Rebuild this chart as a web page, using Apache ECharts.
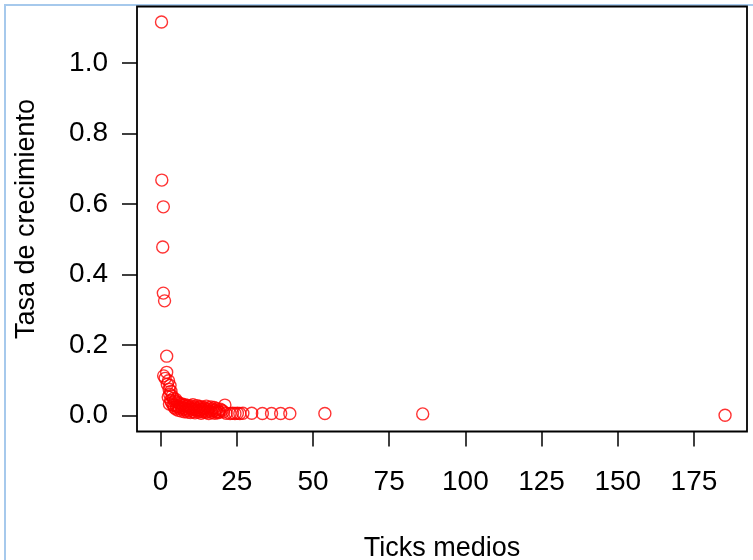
<!DOCTYPE html>
<html>
<head>
<meta charset="utf-8">
<script src="https://cdn.jsdelivr.net/npm/echarts@6/dist/echarts.min.js"></script>
<style>
html,body{margin:0;padding:0;background:#fff;}
#frame{position:absolute;left:4px;top:4px;width:749px;height:556px;border-left:2px solid #a6c9ec;border-top:2px solid #a6c9ec;box-sizing:border-box;}
#chart{position:absolute;left:0;top:0;width:753px;height:560px;}
</style>
</head>
<body>
<div id="frame"></div>
<div id="chart"></div>
<script>
// Data
var ticksMedios = [
  0.3, 0.4, 0.9, 0.7, 0.9, 1.3, 2.0, 1.0, 2.0, 1.5, 2.6, 2.2, 3.1, 2.8, 3.4, 3.0, 2.5, 3.8, 4.2, 3.3,
  2.9, 4.6, 5.0, 5.5, 4.0, 6.0, 6.5, 5.2, 7.0, 7.5, 8.0, 8.6, 9.0, 9.5, 10.0, 10.6, 11.0, 11.5, 12.0, 12.6,
  13.0, 13.5, 14.0, 14.6, 15.0, 15.5, 16.0, 16.5, 17.0, 17.6, 18.0, 18.5, 19.0, 19.6, 20.2, 21.1, 20.6,
  4.5, 5.0, 5.8, 6.2, 6.8, 7.2, 7.8, 8.3, 8.8, 9.2, 9.8, 10.3, 10.8, 11.3, 11.8, 12.3, 12.8, 13.3, 13.8,
  14.3, 14.8, 15.3, 15.8, 16.3, 16.8, 17.3, 17.8, 18.3, 18.8, 19.3, 6.0, 7.0, 8.0, 9.0, 10.0, 11.0, 12.0,
  13.0, 14.0, 3.6, 4.3, 5.6,
  21.5, 22.8, 23.6, 24.4, 25.2, 26.0, 27.0, 29.9, 33.4, 36.4, 39.4, 42.4, 53.9, 86.0, 185.2
];
var tasaCrecimiento = [
  1.117, 0.668, 0.592, 0.478, 0.347, 0.325, 0.168, 0.112, 0.122, 0.105, 0.098, 0.088, 0.085, 0.074, 0.068, 0.060, 0.052, 0.055, 0.048, 0.042,
  0.032, 0.040, 0.045, 0.038, 0.030, 0.035, 0.030, 0.026, 0.032, 0.028, 0.030, 0.025, 0.028, 0.022, 0.026, 0.030, 0.024, 0.020, 0.027, 0.022,
  0.025, 0.018, 0.023, 0.020, 0.026, 0.016, 0.021, 0.024, 0.018, 0.022, 0.015, 0.019, 0.012, 0.017, 0.014, 0.029, 0.010,
  0.022, 0.018, 0.014, 0.020, 0.012, 0.017, 0.010, 0.015, 0.009, 0.013, 0.008, 0.016, 0.011, 0.007, 0.014, 0.009, 0.012, 0.006, 0.010,
  0.014, 0.008, 0.011, 0.005, 0.012, 0.008, 0.013, 0.006, 0.010, 0.007, 0.009, 0.025, 0.022, 0.020, 0.018, 0.019, 0.017, 0.016,
  0.015, 0.017, 0.036, 0.028, 0.024,
  0.006, 0.005, 0.006, 0.005, 0.006, 0.005, 0.006, 0.006, 0.005, 0.005, 0.005, 0.005, 0.005, 0.004, 0.000
];
var xTicks = [0, 25, 50, 75, 100, 125, 150, 175];
var yTicks = [0, 0.2, 0.4, 0.6, 0.8, 1.0];
var xTitle = 'Ticks medios';
var yTitle = 'Tasa de crecimiento';

var points = ticksMedios.map(function (x, i) { return [x, tasaCrecimiento[i]]; });
var FONT = '"Liberation Sans", Arial, sans-serif';

var W = 753, H = 560;
var box = {left: 137, right: 6, top: 6.5, bottom: 128.5};
var xMin = -7.74, xMax = 192.4, yMin = -0.046, yMax = 1.161;
var TICK = 15;
var GW = W - box.left - box.right, GH = H - box.top - box.bottom;
var xPerPx = (xMax - xMin) / GW, yPerPx = (yMax - yMin) / GH;
var tickLine = {color: '#000', width: 1.5};

var chart = echarts.init(document.getElementById('chart'), null, {renderer: 'canvas'});
chart.setOption({
  animation: false,
  backgroundColor: 'transparent',
  grid: [{
    left: box.left, right: box.right, top: box.top, bottom: box.bottom,
    containLabel: false, outerBoundsMode: 'none',
    show: true, borderColor: '#000', borderWidth: 1.8, backgroundColor: 'transparent'
  }, {
    // twin grid, 15 px wider on the left and bottom, that carries the outward ticks
    left: box.left - TICK, right: box.right, top: box.top, bottom: box.bottom - TICK,
    containLabel: false, outerBoundsMode: 'none', show: false
  }],
  xAxis: [{
    gridIndex: 0, type: 'value',
    min: xMin, max: xMax,
    axisLine: {show: false, onZero: false},
    splitLine: {show: false},
    axisTick: {show: false},
    axisLabel: {customValues: xTicks, margin: 37, color: '#000', fontSize: 28, fontFamily: FONT,
      formatter: function (v) { return String(v); }},
    name: xTitle, nameLocation: 'middle', nameGap: 104,
    nameTextStyle: {color: '#000', fontSize: 27, fontFamily: FONT}
  }, {
    gridIndex: 1, type: 'value',
    min: xMin - TICK * xPerPx, max: xMax,
    axisLine: {show: false, onZero: true, onZeroAxisIndex: 2},
    splitLine: {show: false},
    axisLabel: {show: false},
    axisTick: {show: true, length: TICK, customValues: xTicks, lineStyle: tickLine}
  }, {
    // helper: zero sits on the plot box's left edge
    gridIndex: 1, type: 'value', min: -TICK, max: GW, show: false
  }],
  yAxis: [{
    gridIndex: 0, type: 'value',
    min: yMin, max: yMax,
    axisLine: {show: false, onZero: false},
    splitLine: {show: false},
    axisTick: {show: false},
    axisLabel: {customValues: yTicks, margin: 29, color: '#000', fontSize: 28, fontFamily: FONT,
      formatter: function (v) { return v.toFixed(1); }},
    name: yTitle, nameLocation: 'middle', nameGap: 97,
    nameTextStyle: {color: '#000', fontSize: 27, fontFamily: FONT}
  }, {
    gridIndex: 1, type: 'value',
    min: yMin - TICK * yPerPx, max: yMax,
    axisLine: {show: false, onZero: true, onZeroAxisIndex: 2},
    splitLine: {show: false},
    axisLabel: {show: false},
    axisTick: {show: true, length: TICK, customValues: yTicks, lineStyle: tickLine}
  }, {
    // helper: zero sits on the plot box's bottom edge
    gridIndex: 1, type: 'value', min: -TICK, max: GH, show: false
  }],
  series: [{
    type: 'scatter',
    xAxisIndex: 0, yAxisIndex: 0,
    data: points,
    symbol: 'circle',
    symbolSize: 12,
    itemStyle: {color: 'rgba(0,0,0,0)', borderColor: '#ff0000', borderWidth: 1.4}
  }]
});
</script>
</body>
</html>
